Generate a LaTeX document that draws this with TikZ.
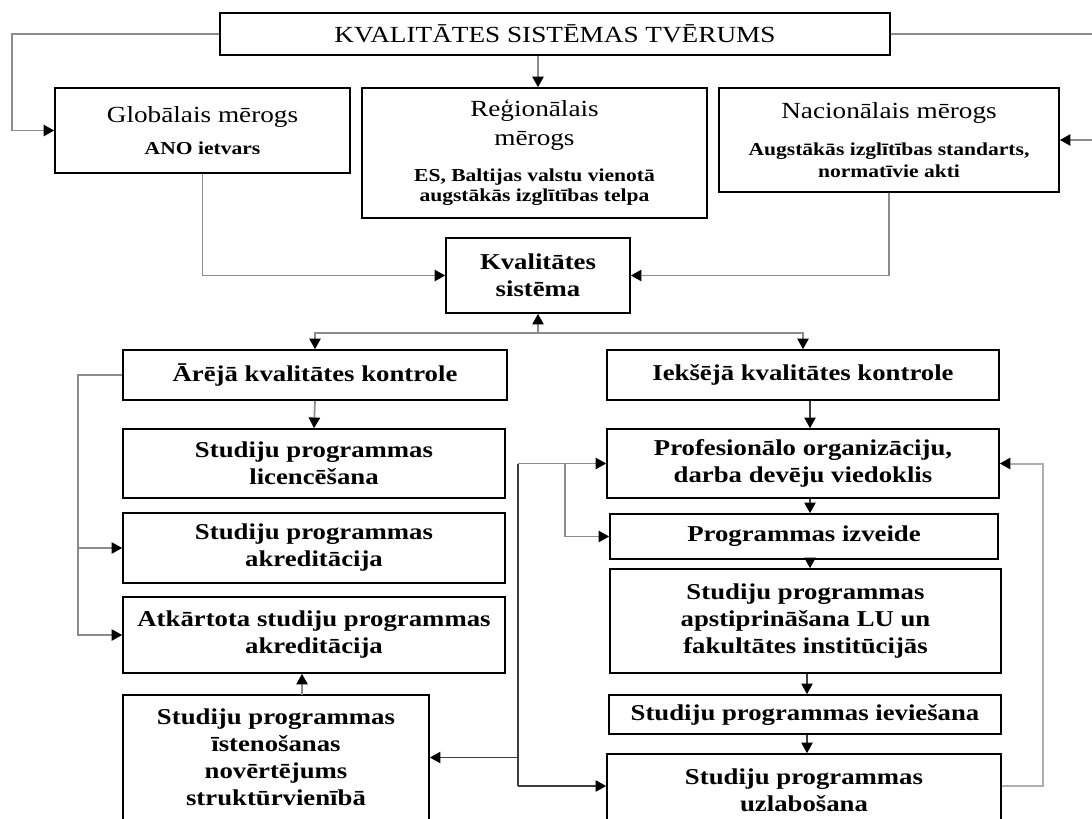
\documentclass[tikz,border=0pt]{standalone}
\usepackage{fontspec}
\setmainfont{Liberation Serif}[FakeStretch=1.18]
\usetikzlibrary{arrows.meta}
\definecolor{lineg}{RGB}{140,140,140}
\definecolor{lined}{RGB}{60,60,60}
\definecolor{linel}{RGB}{175,175,175}
\newcommand\hdf{\fontsize{17.3}{21.5}\selectfont\mdseries}
\newcommand\smf{\fontsize{13.7}{15}\selectfont\bfseries}
\newcommand\bdf{\fontsize{17}{20.3}\selectfont\bfseries}
\tikzset{
  box/.style={draw, line width=1.2pt, inner sep=0pt, align=center, font=\bdf},
  wh/.style 2 args={minimum width=#1*0.75pt, minimum height=#2*0.75pt},
  con/.style={draw=lineg, line width=1.3pt},
  cond/.style={draw=lined, line width=1.1pt},
  conl/.style={draw=linel, line width=1.5pt},
  arr/.style={-{Triangle[length=8pt,width=8.5pt,color=black]}}
}
\begin{document}
\begin{tikzpicture}[x=0.75pt,y=-0.75pt]
\useasboundingbox (0,0) rectangle (1092,818);
\clip (0,0) rectangle (1092,818);
\fill[white] (0,0) rectangle (1092,818);

% top row
\node[box,wh={670}{42},font=\hdf] (top) at (555,34) {KVALITĀTES SISTĒMAS TVĒRUMS};
\node[box,wh={295}{85}] (glob) at (202.5,130.5) {{\hdf Globālais mērogs}\\[4pt]{\smf ANO ietvars}};
\node[box,wh={345}{130}] (reg) at (534.5,153) {{\hdf Reģionālais}\\[1.5pt]{\hdf mērogs}\\[6.5pt]{\smf ES, Baltijas valstu vienotā}\\[-5pt]{\smf augstākās izglītības telpa}};
\node[box,wh={340}{104}] (nac) at (889,140) {{\hdf Nacionālais mērogs}\\[8pt]{\smf Augstākās izglītības standarts,}\\[-4pt]{\smf normatīvie akti}};

% centre
\node[box,wh={184}{75}] (kval) at (538,275.5) {Kvalitātes\\sistēma};

% left column
\node[box,wh={384}{50}] (arej) at (315,375) {Ārējā kvalitātes kontrole};
\node[box,wh={382}{69}] (lic) at (314,463.5) {Studiju programmas\\licencēšana};
\node[box,wh={382}{70}] (akr) at (314,548) {Studiju programmas\\akreditācija};
\node[box,wh={382}{76}] (atk) at (314,635) {Atkārtota studiju programmas\\akreditācija};
\node[box,wh={306}{125}] (ist) at (276,757.5) {Studiju programmas\\īstenošanas\\novērtējums\\struktūrvienībā};

% right column
\node[box,wh={392}{50}] (iek) at (803,375) {Iekšējā kvalitātes kontrole};
\node[box,wh={392}{69}] (prof) at (803,463.5) {Profesionālo organizāciju,\\darba devēju viedoklis};
\node[box,wh={388}{45}] (izv) at (804,536.5) {Programmas izveide};
\node[box,wh={391}{104}] (aps) at (805.5,621) {Studiju programmas\\apstiprināšana LU un\\fakultātes institūcijās};
\node[box,wh={392}{39}] (iev) at (805,714.5) {Studiju programmas ieviešana};
\node[box,wh={394}{72}] (uzl) at (804,790) {Studiju programmas\\uzlabošana};

% connectors, top part
\coordinate (tl) at (12,34);
\draw[con,arr] (top.west) -- (tl) |- (glob.west);
\coordinate (tr) at (1098,34);
\draw[con,arr] (top.east) -- (tr) |- (nac.east);
\coordinate (kx) at (538,0);
\draw[con,arr] (top.south -| kx) -- (reg.north -| kx);
\draw[con,arr] (glob.south) |- (kval.west);
\draw[con,arr] (nac.south) |- (kval.east);
\coordinate (sp) at (538,333);
\draw[con,arr] (sp) -- (kval.south);
\draw[con,arr] (sp) -| (arej.north);
\draw[con,arr] (sp) -| (iek.north);

% left column connectors
\draw[con,arr] (arej.south) -- (lic.north);
\coordinate (fl) at (78,375);
\draw[con,arr] (arej.west) -- (fl) |- (atk.west);
\draw[con,arr] (fl |- akr.west) -- (akr.west);
\coordinate (ia) at (302,695);
\draw[con,arr] (ia) -- (ia |- atk.south);

% right column connectors
\coordinate (rc) at (810,0);
\draw[cond,arr] (rc |- iek.south) -- (rc |- prof.north);
\draw[cond,arr] (rc |- prof.south) -- (rc |- izv.north);
\draw[cond,arr] (rc |- izv.south) -- (rc |- aps.north);
\coordinate (rd) at (807,0);
\draw[cond,arr] (rd |- aps.south) -- (rd |- iev.north);
\draw[cond,arr] (rd |- iev.south) -- (rd |- uzl.north);

% feedback network
\coordinate (n1) at (518,463.5);
\coordinate (n2) at (518,786);
\draw[con,arr] (n1) -- (prof.west);
\draw[cond] (n1) -- (n2);
\draw[cond,arr] (n2) -- (n2 -| uzl.west);
\draw[cond,arr] (ist.east -| n1) -- (ist.east);
\coordinate (b1) at (565,463.5);
\draw[con,arr] (b1) |- (izv.west);
\coordinate (lp) at (1043,786);
\draw[conl,arr] (n2 -| uzl.east) -- (lp) |- (prof.east);
\end{tikzpicture}
\end{document}
